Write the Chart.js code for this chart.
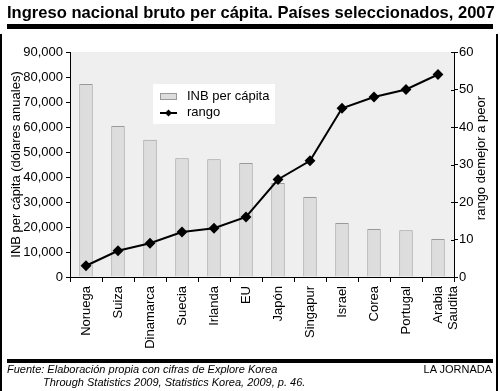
<!DOCTYPE html>
<html>
<head>
<meta charset="utf-8">
<script src="https://cdn.jsdelivr.net/npm/chart.js@4"></script>
<style>
  body { margin: 0; background: #fff; font-family: "Liberation Sans", Arial, sans-serif; }
  #wrap { position: relative; width: 500px; height: 391px; overflow: hidden; }
  #chart { position: absolute; left: 0; top: 0; }
  #title { position: absolute; left: 7px; top: 3px; font-weight: bold; font-size: 17px; white-space: nowrap; transform-origin: 0 0; }
  .rule { position: absolute; left: 7px; width: 486px; background: #000; }
  .side { position: absolute; top: 34px; width: 2px; height: 357px; background: #000; }
  .foot { position: absolute; font-size: 11px; font-style: italic; white-space: nowrap; }
  #brand { position: absolute; right: 8px; top: 363px; font-size: 11px; }
  #rtitle { position: absolute; left: 480px; top: 158px; font-size: 13px; white-space: nowrap;
            transform: translate(-50%, -50%) rotate(-90deg); }
</style>
</head>
<body>
<div id="wrap">
  <canvas id="chart" width="500" height="391"></canvas>
  <div id="title">Ingreso nacional bruto per cápita. Países seleccionados, 2007</div>
  <div class="rule" style="top:24px;height:5px"></div>
  <div class="side" style="left:0"></div>
  <div class="side" style="left:496px"></div>
  <div id="rtitle">rango demejor a peor</div>
  <div class="rule" style="top:359px;height:4px"></div>
  <div class="foot" style="left:7px;top:363px">Fuente: Elaboración propia con cifras de Explore Korea</div>
  <div class="foot" style="left:43px;top:376px">Through Statistics 2009, Statistics Korea, 2009, p. 46.</div>
  <div id="brand">LA JORNADA</div>
</div>
<script>
const countries = ['Noruega', 'Suiza', 'Dinamarca', 'Suecia', 'Irlanda', 'EU', 'Japón',
    'Singapur', 'Israel', 'Corea', 'Portugal', ['Arabia', 'Saudita']];
const inbPerCapita = [77200, 60400, 54900, 47500, 47100, 45600, 37600, 32000, 21600, 19200, 18700, 15200];
const rango = [3, 7, 9, 12, 13, 16, 26, 31, 45, 48, 50, 54];

// stretch title to the width of the rule
const title = document.getElementById('title');
title.style.transform = 'scaleX(' + (488 / title.offsetWidth) + ')';

const plotBg = {
    id: 'plotBg',
    beforeDraw(chart) {
        const { ctx, chartArea: a } = chart;
        ctx.save();
        ctx.fillStyle = '#efefef';
        ctx.fillRect(a.left, a.top, a.right - a.left, a.bottom - a.top);
        ctx.restore();
    }
};

// right axis ticks cross the axis line
const innerTicks = {
    id: 'innerTicks',
    afterDraw(chart) {
        const ctx = chart.ctx;
        const s = chart.scales.y1;
        ctx.save();
        ctx.strokeStyle = '#000';
        ctx.lineWidth = 1;
        s.ticks.forEach(t => {
            const py = Math.round(s.getPixelForValue(t.value)) + 0.5;
            ctx.beginPath();
            ctx.moveTo(s.left - 3, py);
            ctx.lineTo(s.left, py);
            ctx.stroke();
        });
        ctx.restore();
    }
};

// legend box inside the plot
const innerLegend = {
    id: 'innerLegend',
    afterDraw(chart) {
        const ctx = chart.ctx;
        const x = 153, y = 84;
        ctx.save();
        ctx.fillStyle = '#ffffff';
        ctx.fillRect(x, y, 122, 40);
        ctx.fillStyle = '#dddddd';
        ctx.strokeStyle = '#999999';
        ctx.lineWidth = 1;
        ctx.fillRect(x + 7.5, y + 9.5, 16, 6);
        ctx.strokeRect(x + 7.5, y + 9.5, 16, 6);
        ctx.strokeStyle = '#000';
        ctx.lineWidth = 2;
        ctx.beginPath();
        ctx.moveTo(x + 7, y + 29);
        ctx.lineTo(x + 24, y + 29);
        ctx.stroke();
        ctx.fillStyle = '#000';
        ctx.beginPath();
        ctx.moveTo(x + 15.5, y + 25.5);
        ctx.lineTo(x + 19, y + 29);
        ctx.lineTo(x + 15.5, y + 32.5);
        ctx.lineTo(x + 12, y + 29);
        ctx.closePath();
        ctx.fill();
        ctx.font = '13px "Liberation Sans", Arial, sans-serif';
        ctx.textBaseline = 'middle';
        ctx.fillText(chart.data.datasets[1].label, x + 34, y + 12);
        ctx.fillText(chart.data.datasets[0].label, x + 34, y + 28);
        ctx.restore();
    }
};

Chart.defaults.font.family = '"Liberation Sans", Arial, sans-serif';
Chart.defaults.font.size = 13;
Chart.defaults.color = '#000';

new Chart(document.getElementById('chart'), {
    type: 'bar',
    data: {
        labels: countries,
        datasets: [{
            type: 'line',
            label: 'rango',
            data: rango,
            yAxisID: 'y1',
            borderColor: '#000',
            backgroundColor: '#000',
            borderWidth: 2,
            pointStyle: 'rectRot',
            pointRadius: 4,
            tension: 0,
            order: 0
        }, {
            label: 'INB per cápita',
            data: inbPerCapita,
            yAxisID: 'y',
            backgroundColor: '#dddddd',
            borderColor: '#999999',
            borderWidth: 1,
            categoryPercentage: 1,
            barPercentage: 0.42,
            order: 1
        }]
    },
    options: {
        responsive: false,
        animation: false,
        layout: { padding: { top: 52, left: 0, right: 0, bottom: 0 } },
        plugins: { legend: { display: false }, tooltip: { enabled: false } },
        scales: {
            x: {
                afterFit: s => { s.height = 114; },
                border: { color: '#000', width: 1 },
                grid: { drawOnChartArea: false, color: '#000', tickLength: 5 },
                ticks: { maxRotation: 90, minRotation: 90, padding: 4, autoSkip: false }
            },
            y: {
                position: 'left',
                min: 0,
                max: 90000,
                afterFit: s => { s.width = 70; },
                border: { color: '#000', width: 1 },
                grid: { drawOnChartArea: false, color: '#000', tickLength: 4 },
                ticks: { stepSize: 10000, padding: 3, callback: v => v.toLocaleString('en-US') },
                title: { display: true, text: 'INB per cápita (dólares anuales)', padding: { top: 9, bottom: 0 } }
            },
            y1: {
                position: 'right',
                min: 0,
                max: 60,
                afterFit: s => { s.width = 46; },
                border: { color: '#000', width: 1 },
                grid: { drawOnChartArea: false, color: '#000', tickLength: 4 },
                ticks: { stepSize: 10, padding: 1 }
            }
        }
    },
    plugins: [plotBg, innerTicks, innerLegend]
});
</script>
</body>
</html>
